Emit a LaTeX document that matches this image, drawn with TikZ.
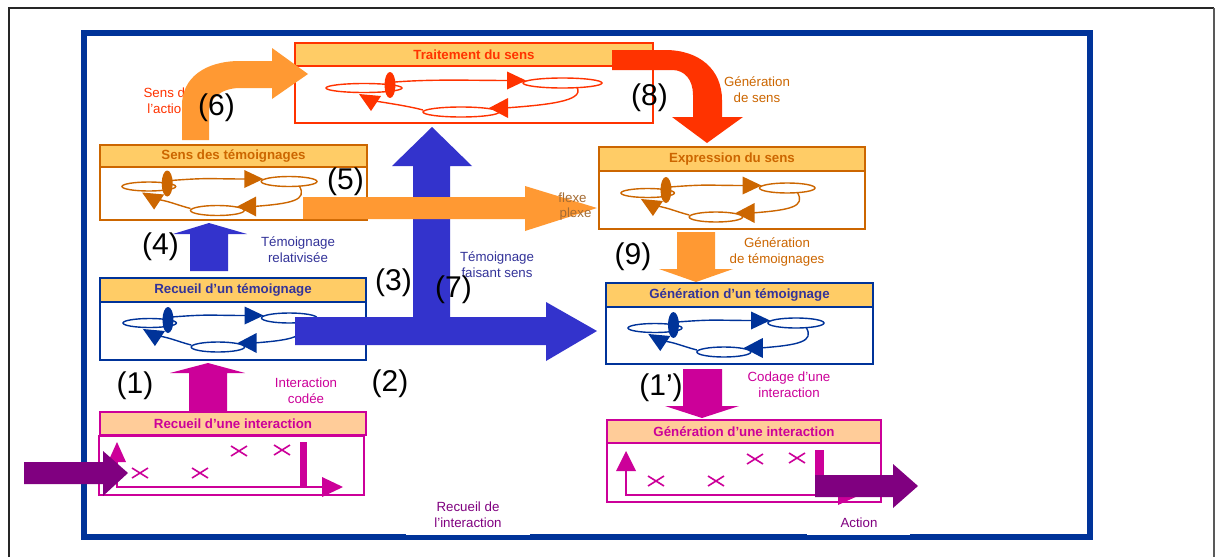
\documentclass[tikz,border=0pt]{standalone}
\usepackage{fontspec}
\setmainfont{Liberation Sans}
\usetikzlibrary{calc}

\definecolor{frameblue}{HTML}{003399}
\definecolor{arrowblue}{HTML}{3333CC}
\definecolor{textblue}{HTML}{333399}
\definecolor{redor}{HTML}{FF3300}
\definecolor{ochre}{HTML}{CC6600}
\definecolor{lightor}{HTML}{FF9933}
\definecolor{hdrfill}{HTML}{FFCC66}
\definecolor{hdrpeach}{HTML}{FFCC99}
\definecolor{magen}{HTML}{CC0099}
\definecolor{purp}{HTML}{800080}

\tikzset{
  lbl/.style={font=\fontsize{13.3}{16}\selectfont, align=center, inner sep=0pt},
  bignum/.style={font=\fontsize{30}{30}\selectfont, inner sep=0pt},
  hdr/.style={draw=#1, fill=hdrfill, line width=2pt, inner sep=0pt, outer sep=0pt,
    anchor=north west, font=\bfseries\fontsize{13.3}{16}\selectfont},
  bodybox/.style={draw=#1, fill=white, line width=2pt, inner sep=0pt, outer sep=0pt,
    anchor=north west},
  pics/xmark/.style={code={\draw[magen, line width=1.6pt] (-8,-5) -- (8,5) (-8,5) -- (8,-5);}}
}

% Cycle of three states with arrows; #1 prefix, #2,#3 origin, #4 width, #5 colour
\newcommand{\loopfig}[5]{%
  \begin{scope}[shift={(#2,#3)}, xscale={#4/276}]
    \draw[#5, line width=1.4pt] (38,16) ellipse [x radius=38, y radius=4.5]
      (236.5,11) ellipse [x radius=39.5, y radius=5]
      (135,40) ellipse [x radius=38, y radius=5];
    \coordinate (#1-a) at (69,10);
    \coordinate (#1-b) at (200,8.5);
    \coordinate (#1-c) at (251,15.5);
    \coordinate (#1-d) at (163,36);
    \coordinate (#1-e) at (97,38);
    \coordinate (#1-f) at (44,29);
    \coordinate (#1-g) at (64,13);
  \end{scope}
  \draw[#5, line width=1.4pt] (#1-a) .. controls +(40,-3) and +(-40,0) .. ($(#1-b)+(-16,0)$);
  \draw[#5, line width=1.4pt] (#1-c) .. controls +(8,14) and +(40,-3) .. ($(#1-d)+(16,0)$);
  \draw[#5, line width=1.4pt] (#1-e) .. controls +(-15,-4) and +(12,2) .. ($(#1-f)+(5,0)$);
  \fill[#5] (#1-g) ellipse [x radius=5.5, y radius=13];
  \fill[#5] (#1-b) -- ++(-19,-9) -- ++(0,18) -- cycle;
  \fill[#5] (#1-d) -- ++(19,-10) -- ++(0,20) -- cycle;
  \fill[#5] ($(#1-f)+(-11,-7)$) -- ++(22,2) -- ++(-10,15) -- cycle;
}

\begin{document}
\begin{tikzpicture}[x=1pt,y=-1pt]
\useasboundingbox (0,0) rectangle (1215,557);
\fill[white] (0,0) rectangle (1215,557);

% outer frame
\draw[line width=2pt, black!85] (9,557) -- (9,8) -- (1214,8);
\draw[line width=1.5pt, black!65] (1214,8) -- (1214,557);

% blue frame
\draw[line width=6pt, frameblue] (84,33) rectangle (1089.5,537);
\fill[white] (406,500) rectangle (530,535);
\fill[white] (807,512) rectangle (910,535);

% boxes
\node[hdr=redor, text=redor, minimum width=358pt, minimum height=23pt] (trait-h) at (295,43) {Traitement du sens};
\node[bodybox=redor, minimum width=358pt, minimum height=57pt] (trait) at (trait-h.south west) {};

\node[hdr=ochre, text=ochre, minimum width=267pt, minimum height=22pt] (sens-h) at (100,145) {Sens des témoignages};
\node[bodybox=ochre, minimum width=267pt, minimum height=53pt] (sens) at (sens-h.south west) {};

\node[hdr=ochre, text=ochre, minimum width=266pt, minimum height=24pt] (expr-h) at (599,147) {Expression du sens};
\node[bodybox=ochre, minimum width=266pt, minimum height=58pt] (expr) at (expr-h.south west) {};

\node[hdr=frameblue, text=textblue, minimum width=266pt, minimum height=24pt] (rtem-h) at (100,278) {Recueil d’un témoignage};
\node[bodybox=frameblue, minimum width=266pt, minimum height=58pt] (rtem) at (rtem-h.south west) {};

\node[hdr=frameblue, text=textblue, minimum width=267pt, minimum height=24pt] (gtem-h) at (606,283) {Génération d’un témoignage};
\node[bodybox=frameblue, minimum width=267pt, minimum height=57pt] (gtem) at (gtem-h.south west) {};

\node[hdr=magen, fill=hdrpeach, text=magen, minimum width=266pt, minimum height=23pt] (rint-h) at (100,412) {Recueil d’une interaction};
\node[bodybox=magen, minimum width=265pt, minimum height=59pt] (rint) at (99,436) {};

\node[hdr=magen, fill=hdrpeach, text=magen, minimum width=274pt, minimum height=23pt] (gint-h) at (607,420) {Génération d’une interaction};
\node[bodybox=magen, minimum width=274pt, minimum height=59pt] (gint) at (gint-h.south west) {};

% state cycles
\loopfig{lt}{326}{72}{276}{redor}
\loopfig{ls}{122}{170.5}{195}{ochre}
\loopfig{le}{621}{177}{194}{ochre}
\loopfig{lr}{123}{307}{194}{frameblue}
\loopfig{lg}{628}{312}{196}{frameblue}

% interaction charts
\draw[magen, line width=2pt] (117,460) -- (117,487) -- (324,487);
\fill[magen] (117,442) -- (108,462) -- (126,462) -- cycle;
\fill[magen] (343,487) -- (322,477) -- (322,497) -- cycle;
\pic at (140,473) {xmark};
\pic at (200,473) {xmark};
\pic at (239,451) {xmark};
\pic at (282,450) {xmark};
\fill[magen] (300,442) rectangle (307,487);

\draw[magen, line width=2pt] (626,469) -- (626,495) -- (840,495);
\fill[magen] (626,451) -- (616,471) -- (636,471) -- cycle;
\fill[magen] (860,495) -- (838,485) -- (838,505) -- cycle;
\pic at (656,481) {xmark};
\pic at (716,481) {xmark};
\pic at (755,459) {xmark};
\pic at (797,458) {xmark};
\fill[magen] (815,450) rectangle (824,495);

% label partly hidden by arrow (6)
\node[lbl, text=redor] (t-action) at (168,101) {Sens de\\l’action};

% block arrows
\fill[arrowblue] (295,317) -- (413,317) -- (413,166) -- (392,166) -- (432,127) -- (472,166)
  -- (450,166) -- (450,317) -- (546,317) -- (546,302) -- (597,331) -- (546,361)
  -- (546,345) -- (295,345) -- cycle;
\fill[lightor] (303,197) -- (525,197) -- (525,186) -- (597,208) -- (525,231) -- (525,219) -- (303,219) -- cycle;
\fill[lightor] (182,140) -- (182,105) .. controls (182,78) and (205,61) .. (240,61) -- (272,61)
  -- (272,48) -- (308,74) -- (272,99) -- (272,88) -- (240,88)
  .. controls (222,88) and (209,98) .. (209,112) -- (209,140) -- cycle;
\fill[redor] (612,50) -- (665,50) .. controls (700,50) and (722,70) .. (722,100) -- (722,117)
  -- (743,117) -- (707,143) -- (672,117) -- (693,117) -- (693,95)
  .. controls (693,80) and (685,70) .. (672,70) -- (612,70) -- cycle;
\fill[arrowblue] (190,271) -- (190,234) -- (173,234) -- (209,223) -- (247,234) -- (228,234) -- (228,271) -- cycle;
\fill[magen] (189,412) -- (189,373) -- (170,373) -- (208,363) -- (245,373) -- (227,373) -- (227,412) -- cycle;
\fill[lightor] (677,232) -- (715,232) -- (715,269) -- (733,269) -- (696,282) -- (659,269) -- (677,269) -- cycle;
\fill[magen] (683,369) -- (722,369) -- (722,406) -- (739,406) -- (702,418) -- (665,406) -- (683,406) -- cycle;
\fill[purp] (24,462) -- (103,462) -- (103,451) -- (128,473) -- (103,496) -- (103,484) -- (24,484) -- cycle;
\fill[purp] (815,475) -- (893,475) -- (893,464) -- (918,486) -- (893,508) -- (893,497) -- (815,497) -- cycle;

% labels
\node[lbl, text=ochre] (t-gsens) at (757,90) {Génération\\de sens};
\node[lbl, text=ochre!70!black!80] (t-flexe) at (572.5,198) {flexe};
\node[lbl, text=ochre!70!black!80] (t-plexe) at (575.5,214) {plexe};
\node[lbl, text=textblue] (t-rel) at (298,250) {Témoignage\\relativisée};
\node[lbl, text=textblue] (t-fais) at (497,264.5) {Témoignage\\faisant sens};
\node[lbl, text=ochre] (t-gtem) at (777,252) {Génération\\de témoignages};
\node[lbl, text=magen] (t-codee) at (306,391) {Interaction\\codée};
\node[lbl, text=magen] (t-codage) at (789,385) {Codage d’une\\interaction};
\node[lbl, text=purp] (t-rint) at (468,515) {Recueil de\\l’interaction};
\node[lbl, text=purp] (t-act) at (859,523) {Action};

% step numbers
\node[bignum] (n6) at (216.5,107.5) {(6)};
\node[bignum] (n8) at (649.5,98) {(8)};
\node[bignum] (n5) at (345.5,182) {(5)};
\node[bignum] (n4) at (160.5,247) {(4)};
\node[bignum] (n3) at (393.5,282.5) {(3)};
\node[bignum] (n7) at (453.5,289.5) {(7)};
\node[bignum] (n1) at (135,386) {(1)};
\node[bignum] (n2) at (390,384) {(2)};
\node[bignum] (n9) at (633,257) {(9)};
\node[bignum] (n1p) at (661,388) {(1’)};
\end{tikzpicture}
\end{document}
